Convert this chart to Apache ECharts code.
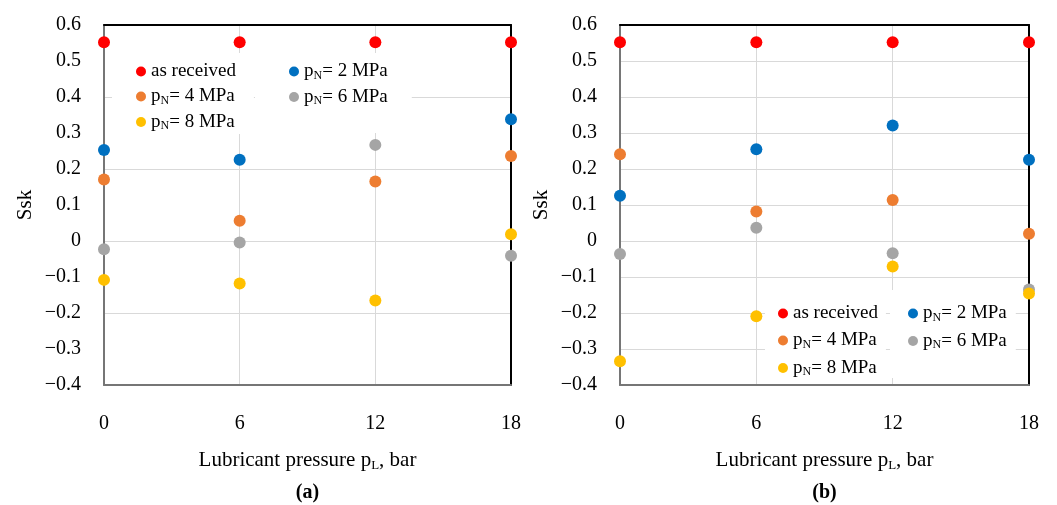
<!DOCTYPE html>
<html>
<head>
<meta charset="utf-8">
<script src="https://cdn.jsdelivr.net/npm/echarts@6/dist/echarts.min.js"></script>
<style>
  html, body { margin: 0; padding: 0; background: #fff; }
  #main { width: 1057px; height: 505px; }
</style>
</head>
<body>
<div id="main"></div>
<script>
// lubricant pressure p_L, bar
const pressures = [0, 6, 12, 18];
const seriesNames = ["as received", "pN= 2 MPa", "pN= 4 MPa", "pN= 6 MPa", "pN= 8 MPa"];

// panel (a), Ssk per pressure (null = not visible, behind legend)
const aReceived = [0.552, 0.552, 0.552, 0.552];
const aP2 = [0.253, 0.226, null, 0.338];
const aP4 = [0.171, 0.056, 0.165, 0.236];
const aP6 = [-0.023, -0.004, 0.267, -0.041];
const aP8 = [-0.108, -0.118, -0.165, 0.019];

// panel (b)
const bReceived = [0.552, 0.552, 0.552, 0.552];
const bP2 = [0.126, 0.255, 0.321, 0.226];
const bP4 = [0.241, 0.082, 0.114, 0.020];
const bP6 = [-0.036, 0.037, -0.034, -0.135];
const bP8 = [-0.334, -0.209, -0.071, -0.146];

const panelLabels = ["(a)", "(b)"];

const colors = ["#FF0000", "#0070C0", "#ED7D31", "#A5A5A5", "#FFC000"];
const FONT = '"Liberation Serif", "Times New Roman", serif';

function fmtTick(v) {
  if (Math.abs(v) < 1e-9) return "0";
  return (v < 0 ? "\u2212" : "") + Math.abs(v).toFixed(1);
}

function legendLabel(name) {
  if (name.indexOf("pN") === 0) return "{t|p}{s|N}{t|" + name.slice(2) + "}";
  return "{t|" + name + "}";
}

function toPoints(values) {
  const pts = [];
  pressures.forEach((x, i) => {
    if (values[i] !== null) pts.push([x, values[i]]);
  });
  return pts;
}

const legendText = {
  fontFamily: FONT,
  fontSize: 19,
  color: "#000",
  rich: {
    t: { fontFamily: FONT, fontSize: 19, lineHeight: 20, color: "#000" },
    s: { fontFamily: FONT, fontSize: 12, lineHeight: 12, verticalAlign: "bottom", color: "#000" },
  },
};

function makeLegend(names, left, top, padding, gap) {
  return {
    orient: "vertical",
    left: left,
    top: top,
    padding: padding,
    itemGap: gap,
    itemWidth: 10,
    itemHeight: 10,
    itemTextGap: 6,
    icon: "circle",
    backgroundColor: "#fff",
    data: names,
    selectedMode: false,
    formatter: legendLabel,
    textStyle: legendText,
  };
}

const grids = [
  { left: 104, top: 25, width: 407, height: 360, containLabel: false, outerBoundsMode: "none" },
  { left: 620, top: 25, width: 409, height: 360, containLabel: false, outerBoundsMode: "none" },
];

const gridLine = { show: true, showMinLine: false, showMaxLine: false, lineStyle: { color: "#d9d9d9", width: 1 } };

const xAxes = [];
const yAxes = [];
[0, 1].forEach((g) => {
  xAxes.push({
    type: "value",
    gridIndex: g,
    position: "bottom",
    min: 0,
    max: 18,
    interval: 6,
    axisLine: { onZero: false, lineStyle: { color: "#767676", width: 2 } },
    axisTick: { show: false },
    axisLabel: { margin: 29, fontFamily: FONT, fontSize: 20, color: "#000" },
    splitLine: gridLine,
    name: "{t|Lubricant pressure p}{s|L}{t|, bar}\n{b|" + panelLabels[g] + "}",
    nameLocation: "middle",
    nameGap: 63,
    nameTextStyle: {
      rich: {
        t: { fontFamily: FONT, fontSize: 21, lineHeight: 24, color: "#000" },
        s: { fontFamily: FONT, fontSize: 13, lineHeight: 14, verticalAlign: "bottom", color: "#000" },
        b: { fontFamily: FONT, fontSize: 20, fontWeight: "bold", lineHeight: 42, color: "#000" },
      },
    },
  });
  xAxes.push({
    type: "value",
    gridIndex: g,
    position: "top",
    min: 0,
    max: 18,
    interval: 6,
    axisLine: { onZero: false, lineStyle: { color: "#000", width: 2 } },
    axisTick: { show: false },
    axisLabel: { show: false },
    splitLine: { show: false },
  });
  yAxes.push({
    type: "value",
    gridIndex: g,
    position: "left",
    min: -0.4,
    max: 0.6,
    interval: 0.1,
    axisLine: { show: true, onZero: false, lineStyle: { color: "#767676", width: 2 } },
    axisTick: { show: false },
    axisLabel: { margin: 23, fontFamily: FONT, fontSize: 20, color: "#000", formatter: fmtTick },
    splitLine: g === 1 ? gridLine : { show: false },
    name: "Ssk",
    nameLocation: "middle",
    nameGap: 68,
    nameTextStyle: { fontFamily: FONT, fontSize: 21, color: "#000" },
  });
  yAxes.push({
    type: "value",
    gridIndex: g,
    position: "right",
    min: -0.4,
    max: 0.6,
    interval: 0.2,
    axisLine: { show: true, onZero: false, lineStyle: { color: "#000", width: 2 } },
    axisTick: { show: false },
    axisLabel: { show: false },
    splitLine: g === 0 ? gridLine : { show: false },
  });
});

const panelValues = [
  [aReceived, aP2, aP4, aP6, aP8],
  [bReceived, bP2, bP4, bP6, bP8],
];

const series = [];
panelValues.forEach((vals, g) => {
  vals.forEach((v, k) => {
    series.push({
      name: seriesNames[k],
      type: "scatter",
      xAxisIndex: g * 2,
      yAxisIndex: g * 2,
      symbolSize: 12,
      itemStyle: { color: colors[k], opacity: 1 },
      data: toPoints(v),
    });
  });
});

const myChart = echarts.init(document.getElementById("main"), null, { renderer: "canvas" });
myChart.setOption({
  animation: false,
  backgroundColor: "#fff",
  grid: grids,
  xAxis: xAxes,
  yAxis: yAxes,
  legend: [
    makeLegend([seriesNames[0], seriesNames[2], seriesNames[4]], 112, 53, [9, 18, 2, 24], 6),
    makeLegend([seriesNames[1], seriesNames[3]], 255, 53, [9, 24, 26, 34], 6),
    makeLegend([seriesNames[0], seriesNames[2], seriesNames[4]], 765, 290, [14, 8, 3, 13], 8),
    makeLegend([seriesNames[1], seriesNames[3]], 890, 290, [14, 9, 27, 18], 8),
  ],
  series: series,
});
</script>
</body>
</html>
